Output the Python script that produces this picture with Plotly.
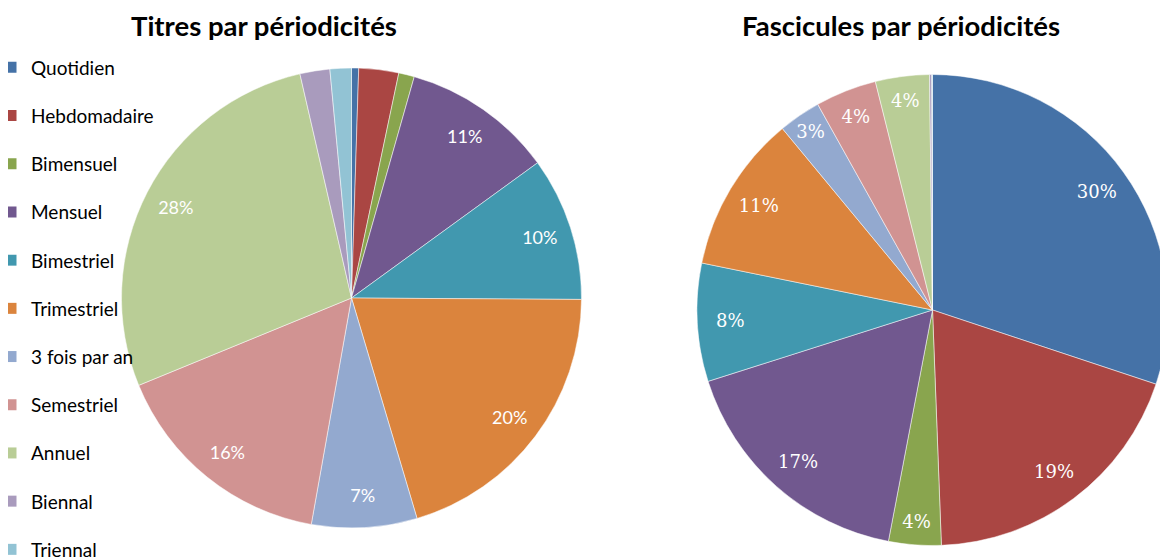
import plotly.graph_objects as go

categories = ["Quotidien", "Hebdomadaire", "Bimensuel", "Mensuel", "Bimestriel",
              "Trimestriel", "3 fois par an", "Semestriel", "Annuel", "Biennal", "Triennal"]
titres_pct = [0.5, 2.8, 1.1, 10.6, 10.1, 20.3, 7.4, 16.0, 27.6, 2.1, 1.5]
fascicules_pct = [30.1, 19.3, 3.6, 17.1, 8.1, 10.8, 2.9, 4.2, 3.7, 0.15, 0.05]
titres_show = [False, False, False, True, True, True, True, True, True, False, False]
fascicules_show = [True, True, True, True, True, True, True, True, True, False, False]
colors = ["#4572A7", "#AA4643", "#89A54E", "#71588F", "#4198AF", "#DB843D",
          "#93A9CF", "#D19392", "#B9CD96", "#A99BBD", "#92C3D4"]

# page body has an 8px margin, so the figure is 8px smaller each way
W, H = 1160, 552

left_dom = dict(x=[113.5 / W, 573.5 / W], y=[32 / H, 492 / H])
right_dom = dict(x=[689 / W, 1.0], y=[14.5 / H, 485.5 / H])

fig = go.Figure()


def add_pie(values, show, dom, font):
    # coloured slices
    fig.add_trace(go.Pie(
        labels=categories, values=values, sort=False, direction="clockwise", rotation=0,
        marker=dict(colors=colors, line=dict(color="white", width=0.5)),
        textinfo="none", domain=dom, showlegend=False, hoverinfo="label+percent",
    ))
    # transparent ring carrying the percentage labels near the rim
    fig.add_trace(go.Pie(
        labels=categories, values=values, sort=False, direction="clockwise", rotation=0,
        hole=0.72,
        marker=dict(colors=["rgba(0,0,0,0)"] * len(categories), line=dict(width=0)),
        texttemplate=["%{percent:.0%}" if s else "" for s in show],
        textposition="inside", insidetextorientation="horizontal",
        textfont=font, domain=dom, showlegend=False, hoverinfo="skip",
    ))


add_pie(titres_pct, titres_show, left_dom, dict(family="Lato", size=18, color="white"))
add_pie(fascicules_pct, fascicules_show, right_dom,
        dict(family="DejaVu Serif", size=18, color="white"))

# legend entries (one group per category so the spacing matches)
for cat, col in zip(categories, colors):
    fig.add_trace(go.Scatter(
        x=[None], y=[None], mode="markers", name=cat, legendgroup=cat,
        marker=dict(symbol="square", size=11, color=col),
    ))

fig.update_layout(
    width=W, height=H, autosize=False,
    margin=dict(l=0, r=0, t=0, b=0, autoexpand=False),
    paper_bgcolor="white", plot_bgcolor="white",
    xaxis=dict(visible=False), yaxis=dict(visible=False),
    font=dict(family="Lato", color="black"),
    legend=dict(
        x=-17 / W, y=1 - 40.5 / H,
        xanchor="left", yanchor="top", traceorder="grouped",
        tracegroupgap=20.5, font=dict(family="Lato", size=19, color="black"),
        bgcolor="rgba(0,0,0,0)",
    ),
    annotations=[
        dict(text="<b>Titres par périodicités</b>", x=256 / W, y=1 - 17 / H,
             xref="paper", yref="paper", showarrow=False,
             font=dict(family="Lato", size=27.5, color="black"),
             xanchor="center", yanchor="middle"),
        dict(text="<b>Fascicules par périodicités</b>", x=893 / W, y=1 - 17 / H,
             xref="paper", yref="paper", showarrow=False,
             font=dict(family="Lato", size=27.5, color="black"),
             xanchor="center", yanchor="middle"),
    ],
)

fig.write_html("out.html")
